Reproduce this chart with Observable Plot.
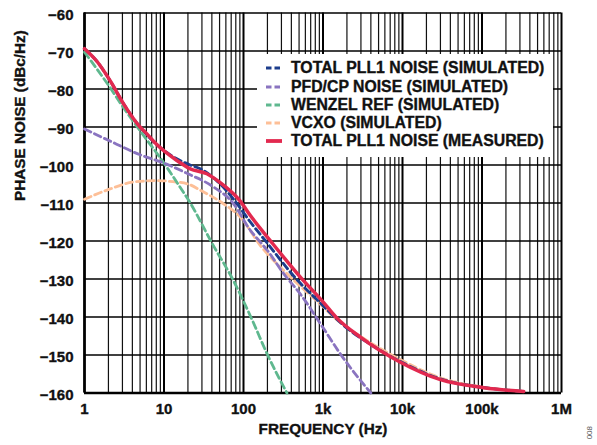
<!DOCTYPE html>
<html>
<head>
<meta charset="utf-8">
<script src="https://cdn.jsdelivr.net/npm/d3@7"></script>
<script src="https://cdn.jsdelivr.net/npm/@observablehq/plot@0.6"></script>
<style>
  html, body { margin: 0; padding: 0; background: #fff; }
  #wrap { position: relative; width: 597px; height: 445px; font-family: "Liberation Sans", Arial, sans-serif; font-weight: bold; }
  #wrap svg text { stroke: #111; stroke-width: 0.35px; }
  #wrap svg text.fig { stroke: none; }
  #legend { position: absolute; left: 257px; top: 54px; width: 296px; height: 103px; background: #fff; }
  .row { position: absolute; left: 0; height: 18px; display: flex; align-items: center; font-size: 15.8px; color: #111; white-space: nowrap; -webkit-text-stroke: 0.35px #111; }
  .row svg { margin-left: 9px; margin-right: 9px; }
</style>
</head>
<body>
<div id="wrap"><div id="legend"></div></div>
<script>
// ---- data ----
const seriesNames = [
  "TOTAL PLL1 NOISE (SIMULATED)",
  "PFD/CP NOISE (SIMULATED)",
  "WENZEL REF (SIMULATED)",
  "VCXO (SIMULATED)",
  "TOTAL PLL1 NOISE (MEASURED)"
];

const totalSimFreq = [1, 1.43, 2.1, 3.1, 5, 8, 13.2, 21.4, 28.6, 46, 75, 122, 198, 427, 1000, 1820, 5000, 10000, 30000, 100000, 335000];
const totalSimDb   = [-69.4, -72.7, -77.8, -83.9, -90, -94.5, -97.9, -100, -101, -104.1, -109, -115, -120.5, -129.2, -137, -142.2, -148.5, -152, -156.3, -158.5, -159.6];

const pfdFreq = [1, 2, 5, 10, 20, 40, 75, 122, 163, 200, 320, 520, 1000, 1650, 4000];
const pfdDb   = [-90.5, -93.5, -97.3, -99.5, -102.3, -105.5, -110.2, -117.2, -120.3, -122.5, -128.6, -134, -142.8, -149.7, -160];

const wenzelFreq = [1, 2, 3, 5, 10, 15, 21.4, 40, 75, 130, 198, 352];
const wenzelDb   = [-70.3, -79, -84.5, -91, -99.5, -105, -110, -120.5, -130.5, -141, -149.7, -160];

const vcxoFreq = [1, 2.1, 4.1, 8, 13, 20, 29, 56, 91, 163, 390, 1000, 1360, 3580, 10000, 30000, 100000, 335000];
const vcxoDb   = [-109, -106.3, -104.5, -104.1, -104.4, -105, -106.7, -110.2, -113.7, -121.2, -129.5, -137.3, -140, -146.2, -151.5, -156, -158.4, -159.6];

const measFreq = [1, 1.43, 2.1, 3.1, 5, 6.1, 8, 14.5, 21.4, 34.6, 50, 91, 122, 217, 519, 1000, 1500, 2950, 9400, 30000, 105000, 335000];
const measDb   = [-69.4, -72.7, -77.8, -83.9, -90, -91.8, -94.5, -98.8, -101, -102.3, -104.5, -109.5, -113.3, -119.9, -129.5, -136, -140.3, -145.3, -151.9, -156.5, -158.6, -159.6];

const xMajorTicks = [1, 10, 100, 1e3, 1e4, 1e5, 1e6];
const xTickLabels = ["1", "10", "100", "1k", "10k", "100k", "1M"];
const yTicks = [-160, -150, -140, -130, -120, -110, -100, -90, -80, -70, -60];

const colors = ["#1c3d8c", "#8a74c0", "#5fb88f", "#fdbf97", "#e2294f"];
const xTitle = "FREQUENCY (Hz)";
const yTitle = "PHASE NOISE (dBc/Hz)";
const figId = "008";

// ---- build tables ----
const toRows = (fs, vs) => fs.map((f, i) => ({f, v: vs[i]}));
const tables = [
  toRows(totalSimFreq, totalSimDb),
  toRows(pfdFreq, pfdDb),
  toRows(wenzelFreq, wenzelDb),
  toRows(vcxoFreq, vcxoDb),
  toRows(measFreq, measDb)
];
const minorTicks = [];
for (let d = 0; d < 6; d++) for (let k = 2; k <= 9; k++) minorTicks.push(k * 10 ** d);

const dash = "7,4";
const lineOpts = (i, w, dashed) => ({x: "f", y: "v", stroke: colors[i], strokeWidth: w,
  strokeDasharray: dashed ? dash : null, curve: "monotone-x"});

const chart = Plot.plot({
  width: 597,
  height: 445,
  marginLeft: 84,
  marginRight: 36,
  marginTop: 12.5,
  marginBottom: 52.5,
  style: {fontFamily: "'Liberation Sans', Arial, sans-serif", fontWeight: "bold", fontSize: "15px", color: "#111", background: "#fff"},
  x: {type: "log", domain: [1, 1e6]},
  y: {domain: [-160, -60]},
  marks: [
    Plot.ruleX(minorTicks, {stroke: "#111", strokeWidth: 1.2}),
    Plot.ruleX(xMajorTicks, {stroke: "#000", strokeWidth: 2}),
    Plot.ruleY(yTicks, {stroke: "#000", strokeWidth: 1.6}),
    Plot.ruleY([-160], {stroke: "#000", strokeWidth: 2.6}),
    Plot.ruleX([1], {stroke: "#000", strokeWidth: 2.6}),
    Plot.axisX({ticks: xMajorTicks, tickFormat: (d) => xTickLabels[xMajorTicks.indexOf(d)], tickSize: 0, tickPadding: 10, label: null, fontSize: 15}),
    Plot.axisY({ticks: yTicks, tickFormat: (d) => (d < 0 ? "\u2212" : "") + Math.abs(d), tickSize: 0, tickPadding: 11, label: null, fontSize: 15, dy: 2}),
    Plot.line(tables[3], lineOpts(3, 2.8, true)),
    Plot.line(tables[0], lineOpts(0, 2.9, true)),
    Plot.line(tables[2], lineOpts(2, 2.8, true)),
    Plot.line(tables[1], lineOpts(1, 2.8, true)),
    Plot.line(tables[4], lineOpts(4, 3.5, false)),
    Plot.text([xTitle], {frameAnchor: "bottom", dy: 41, fontSize: 15.3, fontWeight: "bold", fill: "#111"}),
    Plot.text([yTitle], {frameAnchor: "left", dx: -64, dy: -2, rotate: -90, fontSize: 15.3, fontWeight: "bold", fill: "#111"}),
    Plot.text([figId], {frameAnchor: "bottom-right", dx: 30, dy: 33, rotate: -90, fontSize: 8, fontWeight: "normal", fill: "#555"})
  ]
});
chart.querySelectorAll("text").forEach((t) => { if (t.textContent === figId) t.setAttribute("class", "fig"); });
document.getElementById("wrap").prepend(chart);

// ---- legend ----
const legend = document.getElementById("legend");
seriesNames.forEach((name, i) => {
  const row = document.createElement("div");
  row.className = "row";
  row.style.top = (5.3 + i * 18.2) + "px";
  const dashed = i < 4;
  row.innerHTML = `<svg width="16" height="6"><line x1="0" y1="3" x2="16" y2="3" stroke="${colors[i]}" stroke-width="${dashed ? 2.8 : 3.8}" ${dashed ? 'stroke-dasharray="5.5,3"' : ''}/></svg><span>${name}</span>`;
  legend.appendChild(row);
});
</script>
</body>
</html>
